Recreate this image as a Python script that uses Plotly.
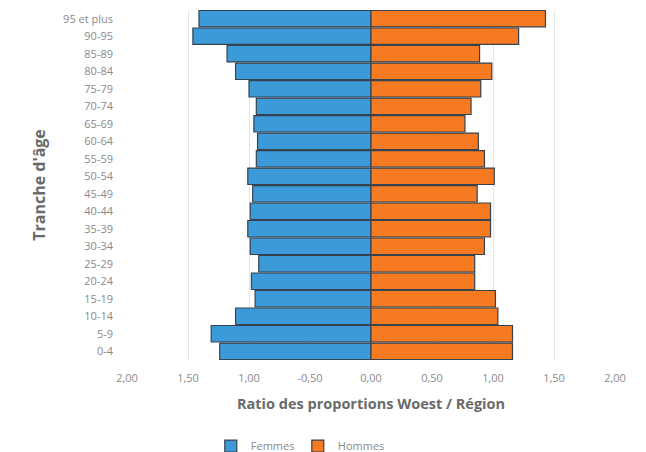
import plotly.graph_objects as go

AGE_GROUPS = [
    "0-4", "5-9", "10-14", "15-19", "20-24", "25-29", "30-34", "35-39",
    "40-44", "45-49", "50-54", "55-59", "60-64", "65-69", "70-74", "75-79",
    "80-84", "85-89", "90-95", "95 et plus",
]
FEMMES = [1.24, 1.31, 1.11, 0.95, 0.98, 0.92, 0.99, 1.01, 0.99, 0.97,
          1.01, 0.94, 0.93, 0.96, 0.94, 1.00, 1.11, 1.18, 1.46, 1.41]
HOMMES = [1.16, 1.16, 1.04, 1.02, 0.85, 0.85, 0.93, 0.98, 0.98, 0.87,
          1.01, 0.93, 0.88, 0.77, 0.82, 0.90, 0.99, 0.89, 1.21, 1.43]

TICK_VALS = [-2.0, -1.5, -1.0, -0.5, 0.0, 0.5, 1.0, 1.5, 2.0]
TICK_TEXT = ["2,00", "1,50", "1,00", "-0,50", "0,00", "0,50", "1,00", "1,50", "2,00"]

FEMMES_COLOR = "#3d9ad8"
HOMMES_COLOR = "#f57a22"
OUTLINE = "#37424f"
FONT = "Open Sans"

fig = go.Figure()
fig.add_trace(
    go.Bar(
        y=AGE_GROUPS,
        x=[-v for v in FEMMES],
        orientation="h",
        name="Femmes",
        marker=dict(color=FEMMES_COLOR, line=dict(color=OUTLINE, width=1.2)),
    )
)
fig.add_trace(
    go.Bar(
        y=AGE_GROUPS,
        x=HOMMES,
        orientation="h",
        name="Hommes",
        marker=dict(color=HOMMES_COLOR, line=dict(color=OUTLINE, width=1.2)),
    )
)

# page body has an 8px default margin, so the figure is drawn 8px smaller
fig.update_layout(
    barmode="relative",
    bargap=0.06,
    width=638,
    height=444,
    plot_bgcolor="white",
    paper_bgcolor="white",
    margin=dict(l=119, r=31, t=2, b=92, autoexpand=False),
    font=dict(family=FONT, color="#7f7f7f", size=11),
    xaxis=dict(
        range=[-2.0, 2.0],
        tickvals=TICK_VALS,
        ticktext=TICK_TEXT,
        showgrid=True,
        gridcolor="#e4e4e4",
        gridwidth=1,
        zeroline=False,
        automargin=False,
        tickfont=dict(size=11, color="#8a8a8a"),
        ticklabelstandoff=10,
        title=dict(
            text="<b>Ratio des proportions Woest / Région</b>",
            font=dict(size=14.5, color="#6a6a6a"),
            standoff=14,
        ),
    ),
    yaxis=dict(
        showgrid=False,
        zeroline=False,
        automargin=False,
        tickfont=dict(size=11, color="#8a8a8a"),
        ticklabelstandoff=13,
        title=dict(
            text="<b>Tranche d'âge</b>",
            font=dict(size=16, color="#6a6a6a"),
            standoff=13,
        ),
    ),
    legend=dict(
        orientation="h",
        x=0.35,
        xanchor="center",
        y=-0.246,
        yanchor="middle",
        font=dict(size=11, color="#8a8a8a"),
        itemwidth=30,
        entrywidth=42,
        tracegroupgap=0,
    ),
)

fig.write_html("out.html")
